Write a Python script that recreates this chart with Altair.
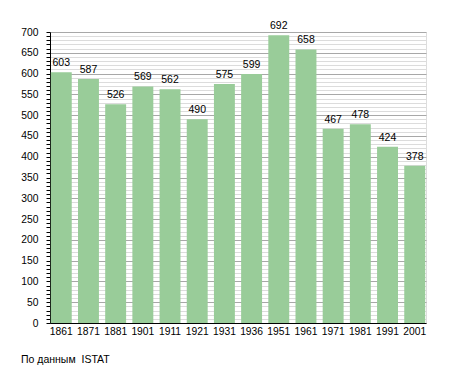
import altair as alt
import pandas as pd

years = ["1861", "1871", "1881", "1901", "1911", "1921", "1931", "1936",
         "1951", "1961", "1971", "1981", "1991", "2001"]
population = [603, 587, 526, 569, 562, 490, 575, 599, 692, 658, 467, 478, 424, 378]
y_ticks = list(range(0, 701, 10))
caption = "По данным\u00a0 ISTAT"

df = pd.DataFrame({"year": years, "pop": population})

W, H = 376, 291
FONT = "Liberation Sans"

x_enc = alt.X("year:N", sort=years, title=None,
              scale=alt.Scale(paddingInner=0.23, paddingOuter=0.03),
              axis=alt.Axis(labelAngle=0, labelFont=FONT, labelFontSize=10.3,
                            labelColor="#000", ticks=False, labelPadding=3,
                            domainColor="#000", grid=False))
y_enc = alt.Y("pop:Q", title=None,
              scale=alt.Scale(domain=[0, 700], nice=False),
              axis=alt.Axis(values=y_ticks, labelOverlap=False,
                            labelExpr="datum.value % 50 === 0 ? datum.label : ''",
                            labelFont=FONT, labelFontSize=10.3, labelColor="#000",
                            tickSize=4, tickColor="#000", labelPadding=8,
                            domainColor="#000", gridOpacity=1,
                            gridColor={"condition": {"test": "datum.value % 50 === 0",
                                                     "value": "#a8a8a8"},
                                       "value": "#dcdcdc"}))

base = alt.Chart(df).encode(x=x_enc, y=y_enc)

bars = base.mark_bar(color="#99CC99")

labels = base.mark_text(font=FONT, fontSize=10.5, color="#000",
                        baseline="alphabetic", dy=-6).encode(text="pop:Q")

cap = alt.Chart(pd.DataFrame({"t": [caption]})).mark_text(
    font=FONT, fontSize=10.5, color="#000", align="left", baseline="alphabetic").encode(
    x=alt.value(-29), y=alt.value(331), text="t:N")

chart = alt.layer(bars, labels, cap).properties(
    width=W, height=H,
    autosize=alt.AutoSizeParams(type="none"),
    padding={"left": 42, "top": 24, "right": 21, "bottom": 42},
).configure_view(stroke=None).configure(background="white")

chart.save("out.html", embed_options={"renderer": "svg", "actions": False})
